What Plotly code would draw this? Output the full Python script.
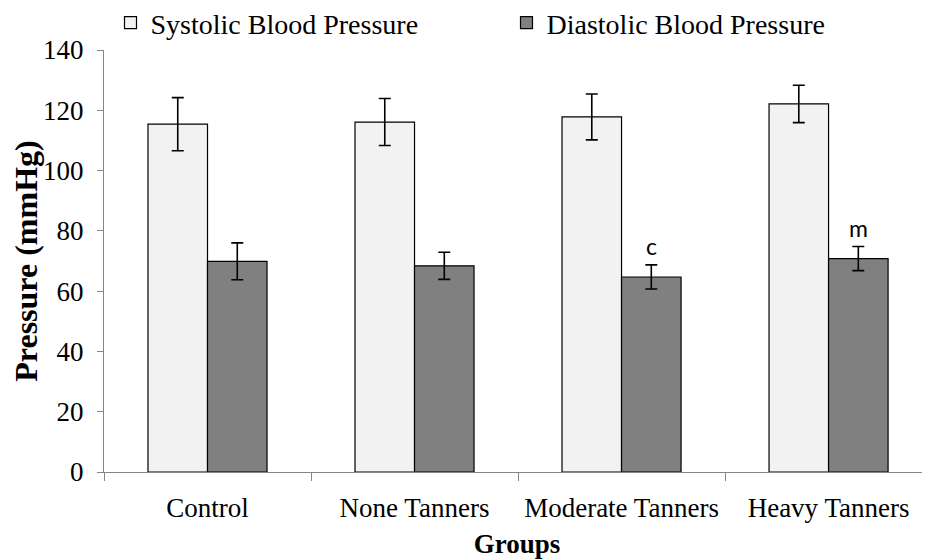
import plotly.graph_objects as go

categories = ["Control", "None Tanners", "Moderate Tanners", "Heavy Tanners"]
systolic = [115.4, 116.1, 117.8, 122.1]
systolic_err = [8.8, 7.8, 7.6, 6.2]
diastolic = [69.9, 68.4, 64.7, 70.8]
diastolic_err = [6.1, 4.5, 4.0, 4.0]
sig_labels = ["", "", "c", "m"]
y_ticks = [0, 20, 40, 60, 80, 100, 120, 140]

serif = "Liberation Serif"
W, H = 922, 551  # page body has an 8px margin

fig = go.Figure()
fig.add_trace(go.Bar(
    name="Systolic Blood Pressure", x=categories, y=systolic,
    marker=dict(color="#f2f2f2", line=dict(color="#000000", width=1.2)),
    error_y=dict(type="data", array=systolic_err, color="#000000", thickness=1.6, width=6),
))
fig.add_trace(go.Bar(
    name="Diastolic Blood Pressure", x=categories, y=diastolic,
    marker=dict(color="#808080", line=dict(color="#000000", width=1.2)),
    error_y=dict(type="data", array=diastolic_err, color="#000000", thickness=1.6, width=6),
))

for cat, val, err, lab in zip(categories, diastolic, diastolic_err, sig_labels):
    if lab:
        fig.add_annotation(x=cat, y=val + err, text=lab, showarrow=False,
                           xshift=30, yshift=3, yanchor="bottom",
                           font=dict(family="Lato", size=23, color="#000000"))

fig.update_layout(
    width=W, height=H,
    margin=dict(l=96, r=0, t=42, b=87, autoexpand=False),
    paper_bgcolor="white", plot_bgcolor="white",
    barmode="group", bargap=0.425, bargroupgap=0,
    font=dict(family=serif, size=27, color="#000000"),
    showlegend=True,
    legend=dict(orientation="h", xref="container", yref="container",
                x=102.5 / W, y=1 - 15 / H, xanchor="left", yanchor="middle",
                entrywidthmode="pixels", entrywidth=351,
                font=dict(family=serif, size=28, color="#000000"),
                traceorder="normal", bgcolor="rgba(0,0,0,0)"),
    xaxis=dict(range=[-0.5, 3.49], showline=True, linecolor="#868686", linewidth=1.3,
               ticks="outside", tickson="boundaries", ticklen=8, tickcolor="#868686",
               tickfont=dict(family=serif, size=27), ticklabelstandoff=11, automargin=False,
               title=dict(text="<b>Groups</b>", font=dict(family=serif, size=27), standoff=15),
               showgrid=False, zeroline=False),
    yaxis=dict(range=[0, 140], tickvals=y_ticks, showline=True, linecolor="#868686", linewidth=1.3,
               ticks="outside", ticklen=6, tickcolor="#868686",
               tickfont=dict(family=serif, size=27), ticklabelstandoff=8, automargin=True,
               title=dict(text="<b>Pressure (mmHg)</b>", font=dict(family=serif, size=32), standoff=10),
               showgrid=False, zeroline=False),
)

fig.write_html("out.html")
